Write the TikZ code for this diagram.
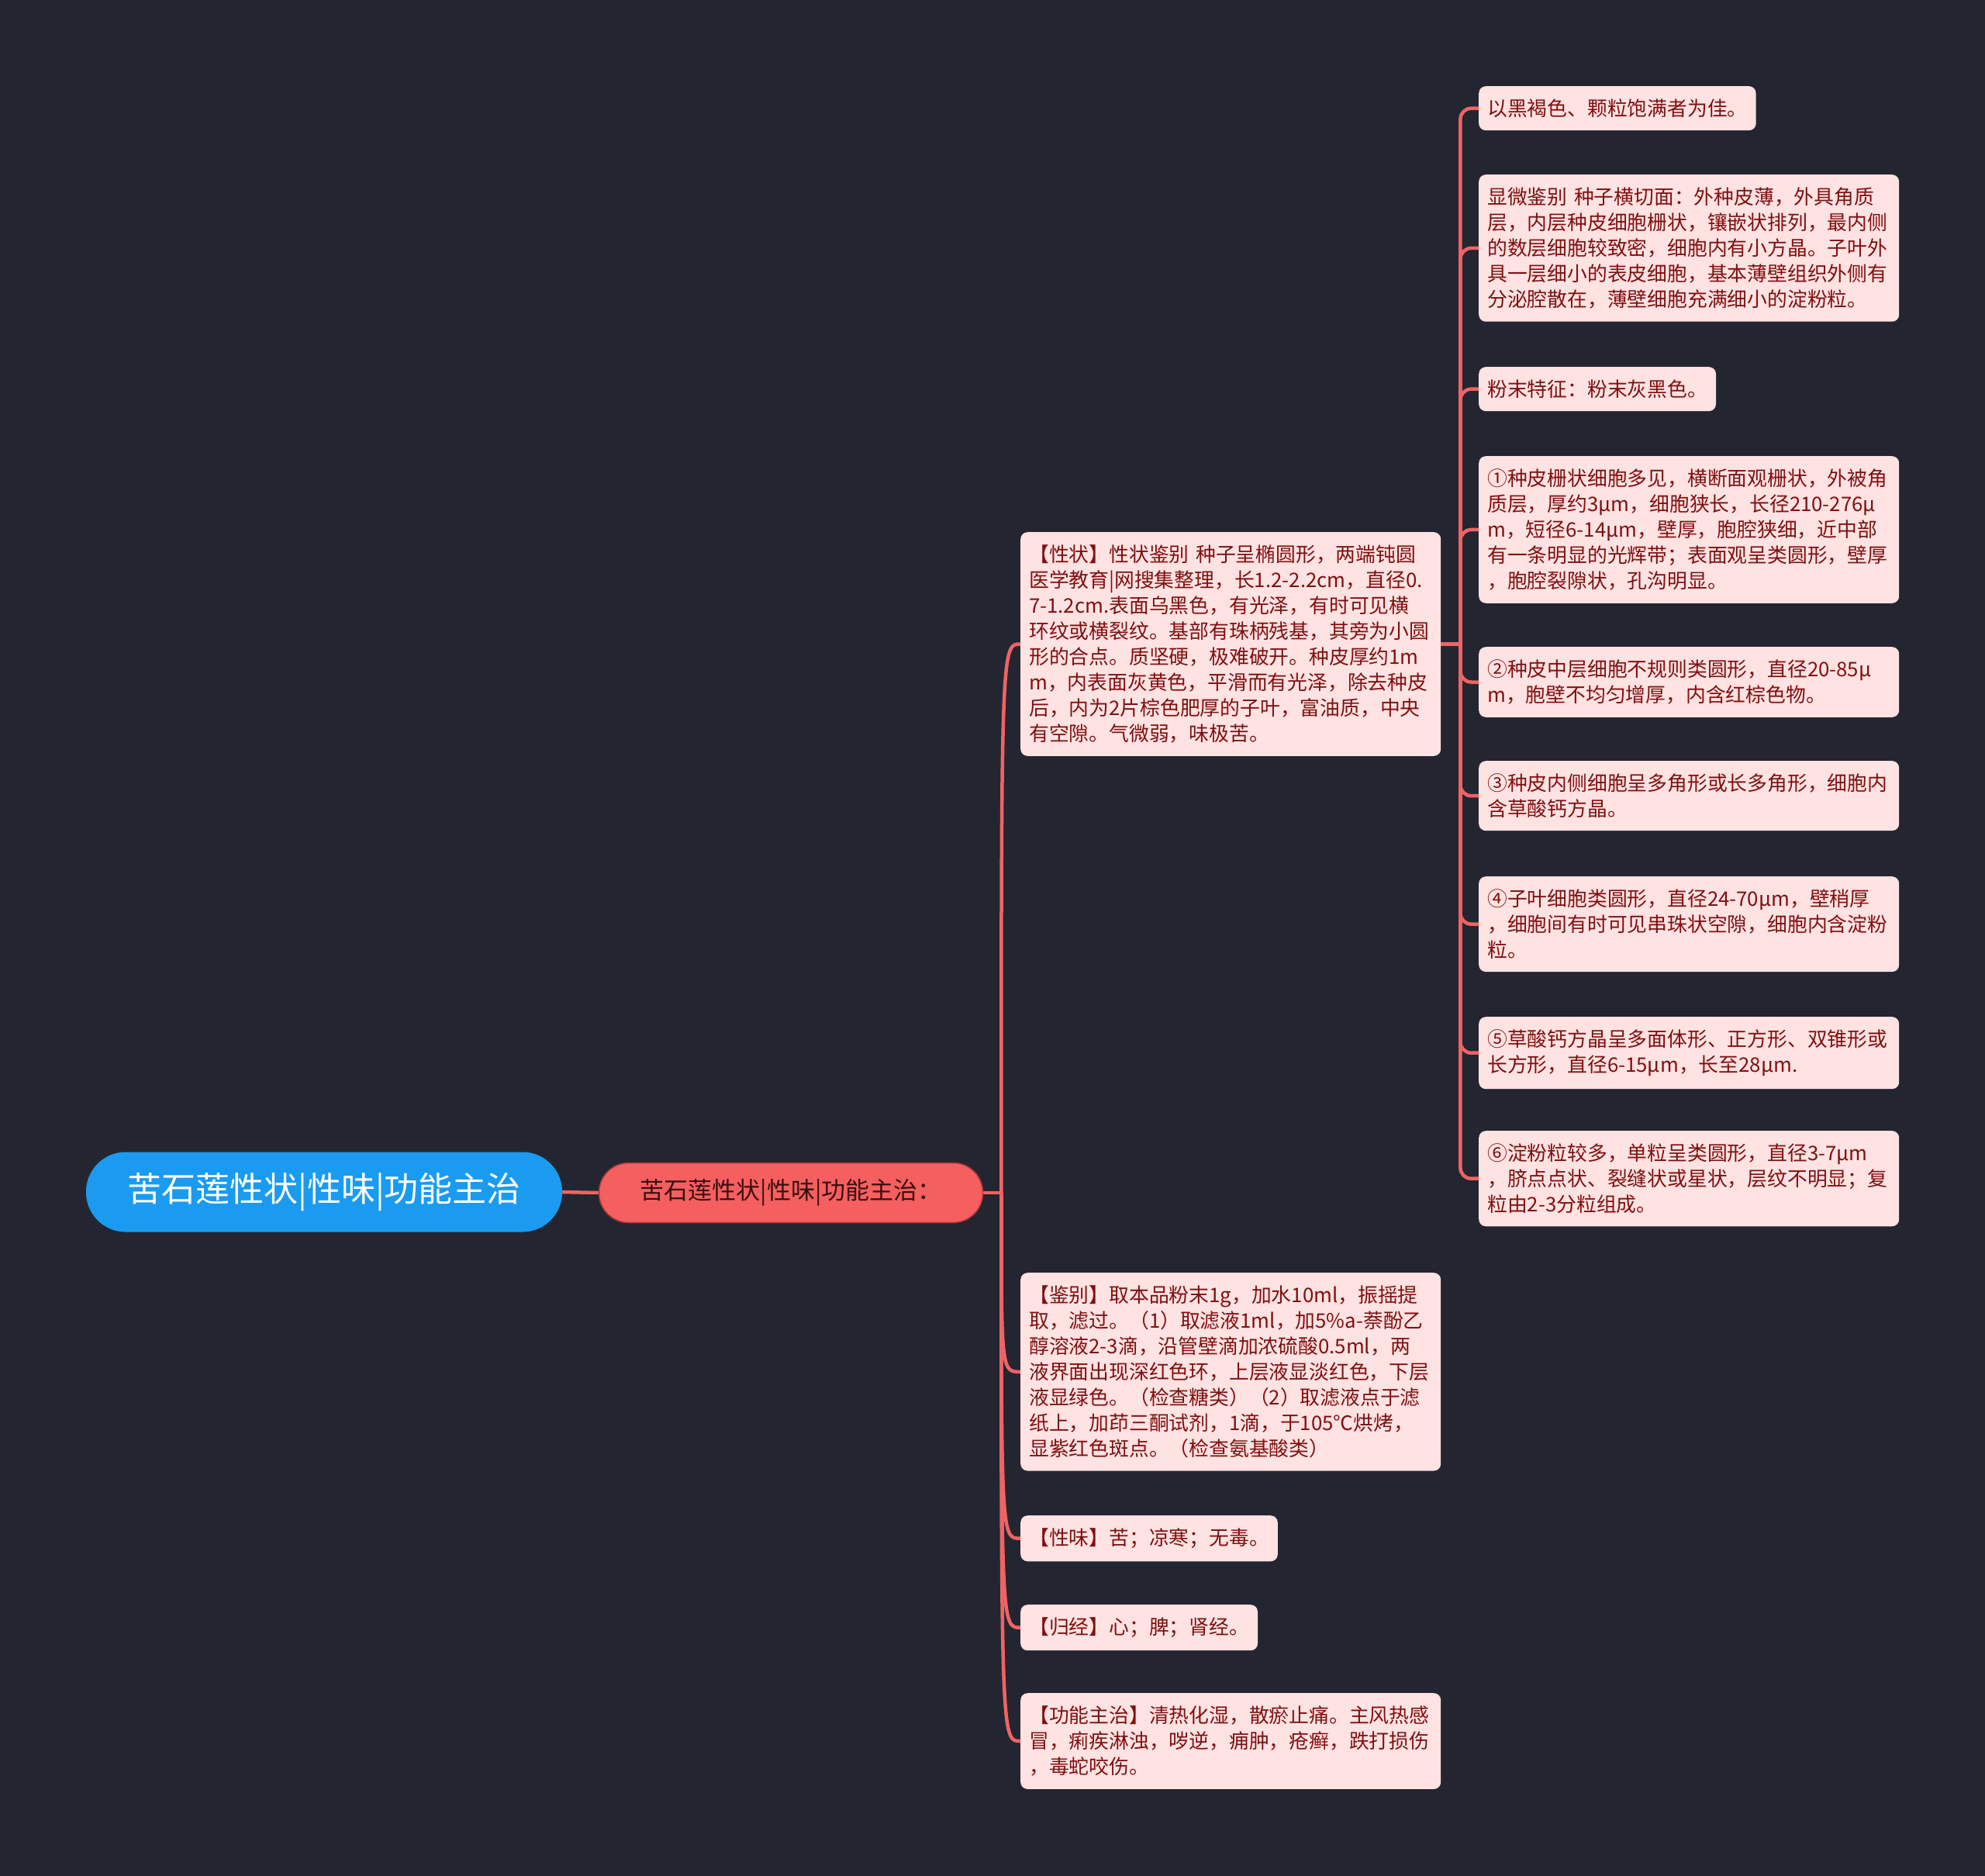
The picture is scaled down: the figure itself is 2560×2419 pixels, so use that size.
\documentclass[tikz,border=0pt]{standalone}
\usepackage{fontspec}
\newfontfamily\cjk{Noto Sans CJK SC}
\definecolor{bgdark}{HTML}{232631}
\definecolor{rootblue}{HTML}{1A9BF0}
\definecolor{mainred}{HTML}{F55F5F}
\definecolor{mainborder}{HTML}{A83636}
\definecolor{maintext}{HTML}{3A0F0F}
\definecolor{leafpink}{HTML}{FFE2E2}
\definecolor{leaftext}{HTML}{7F1010}
\definecolor{linkred}{HTML}{EE6464}
\tikzset{
  rootnode/.style={fill=rootblue, text=white, rounded corners=51pt,
    minimum width=614pt, minimum height=103pt,
    font=\cjk\fontsize{44pt}{50pt}\selectfont},
  mainnode/.style={fill=mainred, draw=mainborder, line width=1.5pt, text=maintext,
    rounded corners=38pt, minimum width=495pt, minimum height=77pt,
    font=\cjk\fontsize{31pt}{36pt}\selectfont},
  leaf/.style={fill=leafpink, text=leaftext, rounded corners=9pt, anchor=north west,
    inner xsep=11pt, inner ysep=16.5pt,
    font=\cjk\fontsize{25.8pt}{33pt}\selectfont},
  wideleaf/.style={leaf, text width=520pt, align=left},
  link/.style={draw=linkred, line width=4.5pt},
}
\begin{document}
\begin{tikzpicture}[x=1pt,y=-1pt]
  % Background and page size
  \useasboundingbox (0,0) rectangle (2560,2419);
  \fill[bgdark] (0,0) rectangle (2560,2419);
  % ROOT AND MAIN BRANCH
  \node[rootnode] (root) at (418,1537) {苦石莲性状|性味|功能主治};
  \node[mainnode] (main) at (1020,1538) {苦石莲性状|性味|功能主治：};
  % LEFT COLUMN
  \node[wideleaf] (shape) at (1316,686) {【性状】性状鉴别 种子呈椭圆形，两端钝圆\\
    医学教育|网搜集整理，长1.2-2.2cm，直径0.\\
    7-1.2cm.表面乌黑色，有光泽，有时可见横\\
    环纹或横裂纹。基部有珠柄残基，其旁为小圆\\
    形的合点。质坚硬，极难破开。种皮厚约1m\\
    m，内表面灰黄色，平滑而有光泽，除去种皮\\
    后，内为2片棕色肥厚的子叶，富油质，中央\\
    有空隙。气微弱，味极苦。};
  \node[wideleaf] (ident) at (1316,1641) {【鉴别】取本品粉末1g，加水10ml，振摇提\\
    取，滤过。（1）取滤液1ml，加5\%a-萘酚乙\\
    醇溶液2-3滴，沿管壁滴加浓硫酸0.5ml，两\\
    液界面出现深红色环，上层液显淡红色，下层\\
    液显绿色。（检查糖类）（2）取滤液点于滤\\
    纸上，加茚三酮试剂，1滴，于105℃烘烤，\\
    显紫红色斑点。（检查氨基酸类）};
  \node[leaf] (taste) at (1316,1954) {【性味】苦；凉寒；无毒。};
  \node[leaf] (meridian) at (1316,2069) {【归经】心；脾；肾经。};
  \node[wideleaf] (usage) at (1316,2183) {【功能主治】清热化湿，散瘀止痛。主风热感\\
    冒，痢疾淋浊，哕逆，痈肿，疮癣，跌打损伤\\
    ，毒蛇咬伤。};
  % RIGHT COLUMN
  \node[leaf] (look) at (1907,111) {以黑褐色、颗粒饱满者为佳。};
  \node[wideleaf] (micro) at (1907,225) {显微鉴别 种子横切面：外种皮薄，外具角质\\
    层，内层种皮细胞栅状，镶嵌状排列，最内侧\\
    的数层细胞较致密，细胞内有小方晶。子叶外\\
    具一层细小的表皮细胞，基本薄壁组织外侧有\\
    分泌腔散在，薄壁细胞充满细小的淀粉粒。};
  \node[leaf] (powder) at (1907,473) {粉末特征：粉末灰黑色。};
  \node[wideleaf] (cell1) at (1907,588) {①种皮栅状细胞多见，横断面观栅状，外被角\\
    质层，厚约3μm，细胞狭长，长径210-276μ\\
    m，短径6-14μm，壁厚，胞腔狭细，近中部\\
    有一条明显的光辉带；表面观呈类圆形，壁厚\\
    ，胞腔裂隙状，孔沟明显。};
  \node[wideleaf] (cell2) at (1907,834) {②种皮中层细胞不规则类圆形，直径20-85μ\\
    m，胞壁不均匀增厚，内含红棕色物。};
  \node[wideleaf] (cell3) at (1907,981) {③种皮内侧细胞呈多角形或长多角形，细胞内\\
    含草酸钙方晶。};
  \node[wideleaf] (cell4) at (1907,1130) {④子叶细胞类圆形，直径24-70μm，壁稍厚\\
    ，细胞间有时可见串珠状空隙，细胞内含淀粉\\
    粒。};
  \node[wideleaf] (cell5) at (1907,1311) {⑤草酸钙方晶呈多面体形、正方形、双锥形或\\
    长方形，直径6-15μm，长至28μm.};
  \node[wideleaf] (cell6) at (1907,1458) {⑥淀粉粒较多，单粒呈类圆形，直径3-7μm\\
    ，脐点点状、裂缝状或星状，层纹不明显；复\\
    粒由2-3分粒组成。};
  % Connectors
  \draw[link] (root.east) -- (main.west);
  \draw[link] (main.east) -- ++(23,0) coordinate (jl);
  \foreach \n in {shape,ident,taste,meridian,usage}
    \draw[link] (jl) .. controls (jl |- \n.west) .. (\n.west);
  \draw[link] (shape.east) -- ++(25,0) coordinate (jr);
  \foreach \n in {look,micro,powder,cell1,cell2,cell3,cell4,cell5,cell6}
    \draw[link, rounded corners=14pt] (jr) |- (\n.west);
\end{tikzpicture}
\end{document}
